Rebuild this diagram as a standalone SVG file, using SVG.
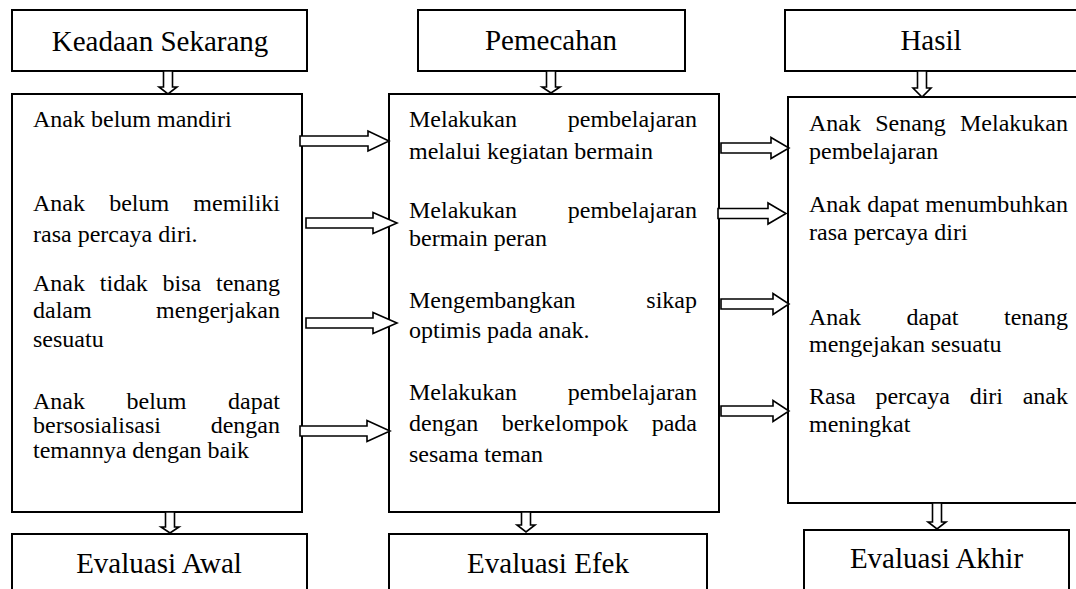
<svg xmlns="http://www.w3.org/2000/svg" width="1076" height="589" viewBox="0 0 1076 589">
<style>
.box{fill:#fff;stroke:#000;stroke-width:2}
.arr{fill:#fff;stroke:#000;stroke-width:1.6;stroke-linejoin:miter}
.h{font-family:"Liberation Serif","Times New Roman",serif;font-size:29px;fill:#000;text-anchor:middle}
.t{font-family:"Liberation Serif","Times New Roman",serif;font-size:24px;fill:#000}
</style>
<rect width="1076" height="589" fill="#fff"/>
<g id="keadaan"><rect class="box" x="12" y="10" width="295" height="61"/><text class="h" x="160" y="51">Keadaan Sekarang</text></g>
<g id="pemecahan"><rect class="box" x="418" y="10" width="267" height="61"/><text class="h" x="551" y="50">Pemecahan</text></g>
<g id="hasil"><rect class="box" x="785" y="10" width="300" height="61"/><text class="h" x="931" y="50">Hasil</text></g>
<g id="kondisi">
<rect class="box" x="12" y="94" width="290" height="418"/>
<text class="t" x="33" y="127">Anak belum mandiri</text>
<text class="t" y="211"><tspan x="33">Anak</tspan><tspan x="109.2">belum</tspan><tspan x="280" text-anchor="end">memiliki</tspan></text>
<text class="t" x="33" y="242">rasa percaya diri.</text>
<text class="t" y="291"><tspan x="33">Anak</tspan><tspan x="99.8">tidak</tspan><tspan x="162.5">bisa</tspan><tspan x="280" text-anchor="end">tenang</tspan></text>
<text class="t" y="318"><tspan x="33">dalam</tspan><tspan x="280" text-anchor="end">mengerjakan</tspan></text>
<text class="t" x="33" y="347">sesuatu</text>
<text class="t" y="409"><tspan x="33">Anak</tspan><tspan x="126.5">belum</tspan><tspan x="280" text-anchor="end">dapat</tspan></text>
<text class="t" y="433"><tspan x="33">bersosialisasi</tspan><tspan x="280" text-anchor="end">dengan</tspan></text>
<text class="t" x="33" y="458">temannya dengan baik</text>
</g>
<g id="solusi">
<rect class="box" x="389" y="94" width="330" height="418"/>
<text class="t" y="127"><tspan x="409">Melakukan</tspan><tspan x="697" text-anchor="end">pembelajaran</tspan></text>
<text class="t" x="409" y="159">melalui kegiatan bermain</text>
<text class="t" y="218"><tspan x="409">Melakukan</tspan><tspan x="697" text-anchor="end">pembelajaran</tspan></text>
<text class="t" x="409" y="246">bermain peran</text>
<text class="t" y="308"><tspan x="409">Mengembangkan</tspan><tspan x="697" text-anchor="end">sikap</tspan></text>
<text class="t" x="409" y="338">optimis pada anak.</text>
<text class="t" y="400"><tspan x="409">Melakukan</tspan><tspan x="697" text-anchor="end">pembelajaran</tspan></text>
<text class="t" y="431"><tspan x="409">dengan</tspan><tspan x="501.7">berkelompok</tspan><tspan x="697" text-anchor="end">pada</tspan></text>
<text class="t" x="409" y="462">sesama teman</text>
</g>
<g id="hasil-isi">
<rect class="box" x="788" y="97" width="300" height="406"/>
<text class="t" y="131"><tspan x="809">Anak</tspan><tspan x="875.2">Senang</tspan><tspan x="1068" text-anchor="end">Melakukan</tspan></text>
<text class="t" x="809" y="159">pembelajaran</text>
<text class="t" y="212"><tspan x="809">Anak</tspan><tspan x="867.2">dapat</tspan><tspan x="1068" text-anchor="end">menumbuhkan</tspan></text>
<text class="t" x="809" y="240">rasa percaya diri</text>
<text class="t" y="325"><tspan x="809">Anak</tspan><tspan x="906.5">dapat</tspan><tspan x="1068" text-anchor="end">tenang</tspan></text>
<text class="t" x="809" y="352">mengejakan sesuatu</text>
<text class="t" y="404"><tspan x="809">Rasa</tspan><tspan x="875.4">percaya</tspan><tspan x="969.7">diri</tspan><tspan x="1068" text-anchor="end">anak</tspan></text>
<text class="t" x="809" y="432">meningkat</text>
</g>
<g id="eval-awal"><rect class="box" x="12" y="534" width="295" height="70"/><text class="h" x="159" y="573">Evaluasi Awal</text></g>
<g id="eval-efek"><rect class="box" x="389" y="534" width="318" height="70"/><text class="h" x="548" y="573">Evaluasi Efek</text></g>
<g id="eval-akhir"><rect class="box" x="804" y="530" width="265" height="70"/><text class="h" x="936.5" y="568">Evaluasi Akhir</text></g>
<g id="connectors">
<polygon class="arr" points="300,136 368,136 368,131 389,141 368,151 368,146 300,146"/>
<polygon class="arr" points="306,218 373,218 373,212.5 397,223 373,233.5 373,228 306,228"/>
<polygon class="arr" points="306,318 373,318 373,312.5 397,323 373,333.5 373,328 306,328"/>
<polygon class="arr" points="300,426 367,426 367,420.5 390,431 367,441.5 367,436 300,436"/>
<polygon class="arr" points="721,143 771,143 771,137.5 789,148 771,158.5 771,153 721,153"/>
<polygon class="arr" points="718,208.5 768,208.5 768,203 786,213.5 768,224 768,218.5 718,218.5"/>
<polygon class="arr" points="721,299 773,299 773,293.5 789,304 773,314.5 773,309 721,309"/>
<polygon class="arr" points="721,406 773,406 773,400.5 789,411 773,421.5 773,416 721,416"/>
<polygon class="arr" points="163.5,71 172.5,71 172.5,87 177,87 168,94 159,87 163.5,87"/>
<polygon class="arr" points="546.5,71 555.5,71 555.5,87 560,87 551,93 542,87 546.5,87"/>
<polygon class="arr" points="917.5,71 926.5,71 926.5,88 931,88 922,97 913,88 917.5,88"/>
<polygon class="arr" points="165.5,512 174.5,512 174.5,527 179,527 170,533 161,527 165.5,527"/>
<polygon class="arr" points="521.5,512 530.5,512 530.5,525 535,525 526,532 517,525 521.5,525"/>
<polygon class="arr" points="932.5,503 941.5,503 941.5,522 946,522 937,529 928,522 932.5,522"/>
</g>
</svg>
